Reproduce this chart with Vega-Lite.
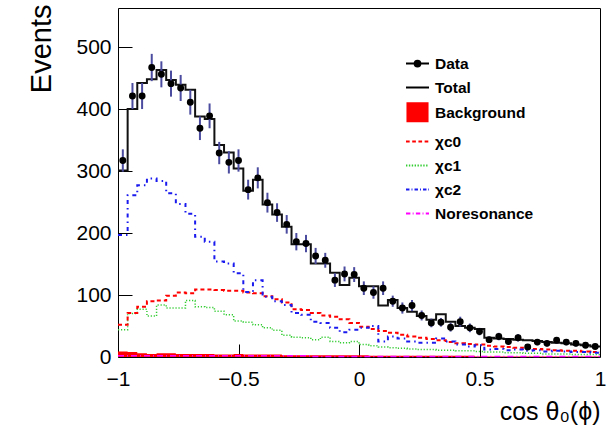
{
  "$schema": "https://vega.github.io/schema/vega-lite/v6.json",
  "width": 482,
  "height": 349,
  "autosize": {"type": "none"},
  "padding": {"left": 118, "top": 8, "right": 13, "bottom": 75},
  "background": "white",
  "config": {
    "view": {"stroke": "black", "strokeWidth": 1},
    "font": "Liberation Sans",
    "axis": {"labelFont": "Liberation Sans", "titleFont": "Liberation Sans", "labelColor": "black", "titleColor": "black"}
  },
  "data": {
    "values": [
      {"lo": -1.00, "hi": -0.96, "x": -0.98, "data": 317, "err": 18, "total": 301, "bkg": 9, "c0": 52, "c1": 44, "c2": 197, "nores": 2},
      {"lo": -0.96, "hi": -0.92, "x": -0.94, "data": 421, "err": 21, "total": 400, "bkg": 8, "c0": 71, "c1": 70, "c2": 261, "nores": 2},
      {"lo": -0.92, "hi": -0.88, "x": -0.90, "data": 421, "err": 21, "total": 442, "bkg": 6, "c0": 81, "c1": 77, "c2": 277, "nores": 2},
      {"lo": -0.88, "hi": -0.84, "x": -0.86, "data": 467, "err": 22, "total": 448, "bkg": 5, "c0": 90, "c1": 66, "c2": 288, "nores": 2},
      {"lo": -0.84, "hi": -0.80, "x": -0.82, "data": 456, "err": 21, "total": 463, "bkg": 6, "c0": 91, "c1": 84, "c2": 284, "nores": 2},
      {"lo": -0.80, "hi": -0.76, "x": -0.78, "data": 441, "err": 21, "total": 447, "bkg": 6, "c0": 99, "c1": 79, "c2": 264, "nores": 2},
      {"lo": -0.76, "hi": -0.72, "x": -0.74, "data": 434, "err": 21, "total": 439, "bkg": 5, "c0": 104, "c1": 79, "c2": 247, "nores": 2},
      {"lo": -0.72, "hi": -0.68, "x": -0.70, "data": 411, "err": 20, "total": 431, "bkg": 5, "c0": 103, "c1": 91, "c2": 231, "nores": 2},
      {"lo": -0.68, "hi": -0.64, "x": -0.66, "data": 369, "err": 19, "total": 388, "bkg": 5, "c0": 109, "c1": 81, "c2": 194, "nores": 2},
      {"lo": -0.64, "hi": -0.60, "x": -0.62, "data": 389, "err": 20, "total": 384, "bkg": 5, "c0": 109, "c1": 80, "c2": 186, "nores": 2},
      {"lo": -0.60, "hi": -0.56, "x": -0.58, "data": 329, "err": 18, "total": 342, "bkg": 4, "c0": 108, "c1": 74, "c2": 154, "nores": 2},
      {"lo": -0.56, "hi": -0.52, "x": -0.54, "data": 314, "err": 18, "total": 330, "bkg": 4, "c0": 107, "c1": 68, "c2": 151, "nores": 2},
      {"lo": -0.52, "hi": -0.48, "x": -0.50, "data": 317, "err": 18, "total": 304, "bkg": 5, "c0": 107, "c1": 58, "c2": 135, "nores": 2},
      {"lo": -0.48, "hi": -0.44, "x": -0.46, "data": 270, "err": 16, "total": 268, "bkg": 4, "c0": 104, "c1": 56, "c2": 105, "nores": 2},
      {"lo": -0.44, "hi": -0.40, "x": -0.42, "data": 289, "err": 17, "total": 286, "bkg": 4, "c0": 103, "c1": 52, "c2": 124, "nores": 2},
      {"lo": -0.40, "hi": -0.36, "x": -0.38, "data": 249, "err": 16, "total": 246, "bkg": 4, "c0": 98, "c1": 47, "c2": 97, "nores": 2},
      {"lo": -0.36, "hi": -0.32, "x": -0.34, "data": 233, "err": 15, "total": 230, "bkg": 4, "c0": 93, "c1": 43, "c2": 90, "nores": 2},
      {"lo": -0.32, "hi": -0.28, "x": -0.30, "data": 214, "err": 15, "total": 210, "bkg": 3, "c0": 88, "c1": 35, "c2": 84, "nores": 2},
      {"lo": -0.28, "hi": -0.24, "x": -0.26, "data": 186, "err": 14, "total": 182, "bkg": 3, "c0": 77, "c1": 32, "c2": 71, "nores": 2},
      {"lo": -0.24, "hi": -0.20, "x": -0.22, "data": 183, "err": 14, "total": 182, "bkg": 3, "c0": 76, "c1": 31, "c2": 68, "nores": 2},
      {"lo": -0.20, "hi": -0.16, "x": -0.18, "data": 163, "err": 13, "total": 151, "bkg": 3, "c0": 71, "c1": 28, "c2": 57, "nores": 1},
      {"lo": -0.16, "hi": -0.12, "x": -0.14, "data": 156, "err": 12, "total": 151, "bkg": 3, "c0": 67, "c1": 32, "c2": 55, "nores": 1},
      {"lo": -0.12, "hi": -0.08, "x": -0.10, "data": 124, "err": 11, "total": 136, "bkg": 3, "c0": 65, "c1": 25, "c2": 47, "nores": 1},
      {"lo": -0.08, "hi": -0.04, "x": -0.06, "data": 134, "err": 12, "total": 116, "bkg": 3, "c0": 61, "c1": 23, "c2": 40, "nores": 1},
      {"lo": -0.04, "hi": 0.00, "x": -0.02, "data": 133, "err": 12, "total": 128, "bkg": 3, "c0": 55, "c1": 25, "c2": 44, "nores": 1},
      {"lo": 0.00, "hi": 0.04, "x": 0.02, "data": 111, "err": 11, "total": 114, "bkg": 3, "c0": 49, "c1": 20, "c2": 47, "nores": 1},
      {"lo": 0.04, "hi": 0.08, "x": 0.06, "data": 104, "err": 10, "total": 114, "bkg": 2, "c0": 45, "c1": 18, "c2": 50, "nores": 1},
      {"lo": 0.08, "hi": 0.12, "x": 0.10, "data": 111, "err": 11, "total": 83, "bkg": 2, "c0": 42, "c1": 16, "c2": 25, "nores": 1},
      {"lo": 0.12, "hi": 0.16, "x": 0.14, "data": 90, "err": 9, "total": 92, "bkg": 2, "c0": 39, "c1": 15, "c2": 33, "nores": 1},
      {"lo": 0.16, "hi": 0.20, "x": 0.18, "data": 79, "err": 9, "total": 79, "bkg": 2, "c0": 36, "c1": 14, "c2": 30, "nores": 1},
      {"lo": 0.20, "hi": 0.24, "x": 0.22, "data": 83, "err": 9, "total": 73, "bkg": 2, "c0": 33, "c1": 13, "c2": 25, "nores": 1},
      {"lo": 0.24, "hi": 0.28, "x": 0.26, "data": 67, "err": 8, "total": 66, "bkg": 2, "c0": 31, "c1": 12, "c2": 23, "nores": 1},
      {"lo": 0.28, "hi": 0.32, "x": 0.30, "data": 55, "err": 7, "total": 60, "bkg": 2, "c0": 29, "c1": 12, "c2": 23, "nores": 1},
      {"lo": 0.32, "hi": 0.36, "x": 0.34, "data": 56, "err": 7, "total": 69, "bkg": 2, "c0": 27, "c1": 11, "c2": 30, "nores": 1},
      {"lo": 0.36, "hi": 0.40, "x": 0.38, "data": 48, "err": 7, "total": 57, "bkg": 2, "c0": 24, "c1": 11, "c2": 25, "nores": 1},
      {"lo": 0.40, "hi": 0.44, "x": 0.42, "data": 57, "err": 8, "total": 50, "bkg": 2, "c0": 22, "c1": 10, "c2": 20, "nores": 1},
      {"lo": 0.44, "hi": 0.48, "x": 0.46, "data": 47, "err": 7, "total": 47, "bkg": 2, "c0": 21, "c1": 10, "c2": 17, "nores": 1},
      {"lo": 0.48, "hi": 0.52, "x": 0.50, "data": 41, "err": 6, "total": 45, "bkg": 1, "c0": 20, "c1": 9, "c2": 19, "nores": 1},
      {"lo": 0.52, "hi": 0.56, "x": 0.54, "data": 28, "err": 5, "total": 31, "bkg": 1, "c0": 18, "c1": 8, "c2": 12, "nores": 1},
      {"lo": 0.56, "hi": 0.60, "x": 0.58, "data": 33, "err": 6, "total": 30, "bkg": 1, "c0": 17, "c1": 8, "c2": 13, "nores": 1},
      {"lo": 0.60, "hi": 0.64, "x": 0.62, "data": 25, "err": 5, "total": 29, "bkg": 1, "c0": 16, "c1": 7, "c2": 11, "nores": 1},
      {"lo": 0.64, "hi": 0.68, "x": 0.66, "data": 31, "err": 6, "total": 28, "bkg": 1, "c0": 15, "c1": 7, "c2": 12, "nores": 1},
      {"lo": 0.68, "hi": 0.72, "x": 0.70, "data": 16, "err": 4, "total": 27, "bkg": 1, "c0": 14, "c1": 6, "c2": 10, "nores": 1},
      {"lo": 0.72, "hi": 0.76, "x": 0.74, "data": 24, "err": 5, "total": 26, "bkg": 1, "c0": 13, "c1": 6, "c2": 11, "nores": 1},
      {"lo": 0.76, "hi": 0.80, "x": 0.78, "data": 22, "err": 5, "total": 24, "bkg": 1, "c0": 12, "c1": 5, "c2": 9, "nores": 1},
      {"lo": 0.80, "hi": 0.84, "x": 0.82, "data": 27, "err": 5, "total": 23, "bkg": 1, "c0": 11, "c1": 5, "c2": 10, "nores": 1},
      {"lo": 0.84, "hi": 0.88, "x": 0.86, "data": 24, "err": 5, "total": 22, "bkg": 1, "c0": 10, "c1": 5, "c2": 9, "nores": 1},
      {"lo": 0.88, "hi": 0.92, "x": 0.90, "data": 22, "err": 5, "total": 20, "bkg": 1, "c0": 10, "c1": 4, "c2": 8, "nores": 1},
      {"lo": 0.92, "hi": 0.96, "x": 0.94, "data": 19, "err": 4, "total": 19, "bkg": 1, "c0": 9, "c1": 4, "c2": 8, "nores": 1},
      {"lo": 0.96, "hi": 1.00, "x": 0.98, "data": 17, "err": 4, "total": 17, "bkg": 1, "c0": 8, "c1": 4, "c2": 7, "nores": 1}
    ]
  },
  "layer": [
    {
      "transform": [{"fold": ["lo", "hi"], "as": ["edge", "xe"]}],
      "mark": {"type": "area", "color": "#ff0000", "interpolate": "linear"},
      "encoding": {
        "x": {
          "field": "xe", "type": "quantitative",
          "scale": {"domain": [-1, 1], "nice": false, "zero": false},
          "axis": {
            "orient": "bottom", "values": [-1, -0.5, 0, 0.5, 1], "format": "~f",
            "ticks": false, "domain": false, "grid": false,
            "labelFontSize": 21, "labelPadding": 11, "labelFlush": false, "labelOverlap": false,
            "title": "cos θ₀(ϕ)", "titleFontSize": 25, "titleFontWeight": "normal",
            "titleAnchor": "end", "titleAlign": "right", "titleBaseline": "alphabetic",
            "titleX": 482, "titleY": 62
          }
        },
        "y": {
          "field": "bkg", "type": "quantitative",
          "scale": {"domain": [0, 563], "nice": false, "zero": true},
          "axis": {
            "orient": "left", "values": [0, 100, 200, 300, 400, 500],
            "ticks": false, "domain": false, "grid": false,
            "labelFontSize": 21, "labelPadding": 7,
            "title": "Events", "titleFontSize": 29, "titleFontWeight": "normal",
            "titleAngle": -90, "titleAnchor": "end", "titleAlign": "right", "titleBaseline": "alphabetic",
            "titleX": -68, "titleY": -4
          }
        },
        "y2": {"datum": 0}
      }
    },
    {
      "transform": [{"fold": ["lo", "hi"], "as": ["edge", "xe"]}],
      "mark": {"type": "line", "color": "#ff00ff", "strokeWidth": 1.5, "strokeDash": [6, 3, 1, 3]},
      "encoding": {
        "x": {"field": "xe", "type": "quantitative", "axis": null},
        "y": {"field": "nores", "type": "quantitative", "axis": null},
        "order": [{"field": "x", "type": "quantitative"}, {"field": "edge", "type": "nominal", "sort": "descending"}]
      }
    },
    {
      "transform": [{"fold": ["lo", "hi"], "as": ["edge", "xe"]}],
      "mark": {"type": "line", "color": "#33cc33", "strokeWidth": 1.5, "strokeDash": [1.2, 1.8]},
      "encoding": {
        "x": {"field": "xe", "type": "quantitative", "axis": null},
        "y": {"field": "c1", "type": "quantitative", "axis": null},
        "order": [{"field": "x", "type": "quantitative"}, {"field": "edge", "type": "nominal", "sort": "descending"}]
      }
    },
    {
      "transform": [{"fold": ["lo", "hi"], "as": ["edge", "xe"]}],
      "mark": {"type": "line", "color": "#ff0000", "strokeWidth": 2, "strokeDash": [4, 3]},
      "encoding": {
        "x": {"field": "xe", "type": "quantitative", "axis": null},
        "y": {"field": "c0", "type": "quantitative", "axis": null},
        "order": [{"field": "x", "type": "quantitative"}, {"field": "edge", "type": "nominal", "sort": "descending"}]
      }
    },
    {
      "transform": [{"fold": ["lo", "hi"], "as": ["edge", "xe"]}],
      "mark": {"type": "line", "color": "#1a1aee", "strokeWidth": 2, "strokeDash": [4, 4, 1.5, 4]},
      "encoding": {
        "x": {"field": "xe", "type": "quantitative", "axis": null},
        "y": {"field": "c2", "type": "quantitative", "axis": null},
        "order": [{"field": "x", "type": "quantitative"}, {"field": "edge", "type": "nominal", "sort": "descending"}]
      }
    },
    {
      "transform": [{"fold": ["lo", "hi"], "as": ["edge", "xe"]}],
      "mark": {"type": "line", "color": "#111111", "strokeWidth": 2},
      "encoding": {
        "x": {"field": "xe", "type": "quantitative", "axis": null},
        "y": {"field": "total", "type": "quantitative", "axis": null},
        "order": [{"field": "x", "type": "quantitative"}, {"field": "edge", "type": "nominal", "sort": "descending"}]
      }
    },
    {
      "mark": {"type": "errorbar", "ticks": false, "color": "#4b4ba0", "thickness": 2},
      "encoding": {
        "x": {"field": "x", "type": "quantitative", "axis": null},
        "y": {"field": "data", "type": "quantitative", "axis": null},
        "yError": {"field": "err"}
      }
    },
    {
      "mark": {"type": "point", "filled": true, "color": "black", "size": 48, "opacity": 1},
      "encoding": {
        "x": {
          "field": "x", "type": "quantitative",
          "axis": {"orient": "top", "offset": -349, "values": [-0.5, 0, 0.5], "labels": false, "domain": false, "grid": false, "tickSize": 13, "tickColor": "black", "tickWidth": 1, "title": null}
        },
        "y": {
          "field": "data", "type": "quantitative",
          "axis": {"orient": "right", "offset": -482, "values": [0, 100, 200, 300, 400, 500], "labels": false, "domain": false, "grid": false, "tickSize": 14, "tickColor": "black", "tickWidth": 1, "title": null}
        }
      }
    },
    {
      "transform": [{"fold": ["data", "total", "bkg", "c0", "c1", "c2", "nores"], "as": ["series", "val"]}],
      "mark": {"type": "point", "filled": false, "opacity": 0, "strokeWidth": 2},
      "encoding": {
        "x": {"field": "x", "type": "quantitative", "axis": null},
        "y": {"field": "val", "type": "quantitative", "axis": null},
        "color": {
          "field": "series", "type": "nominal",
          "scale": {
            "domain": ["data", "total", "bkg", "c0", "c1", "c2", "nores"],
            "range": ["#000000", "#000000", "#ff0000", "#ff0000", "#33cc33", "#1a1aee", "#ff00ff"]
          },
          "legend": {
            "orient": "none", "legendX": 287, "legendY": 43, "title": null, "padding": 0,
            "labelExpr": "datum.label == 'data' ? 'Data' : datum.label == 'total' ? 'Total' : datum.label == 'bkg' ? 'Background' : datum.label == 'c0' ? 'χc0' : datum.label == 'c1' ? 'χc1' : datum.label == 'c2' ? 'χc2' : 'Noresonance'",
            "labelFont": "Liberation Sans", "labelFontWeight": "bold", "labelFontSize": 15.5, "labelColor": "black", "labelOffset": 5,
            "symbolSize": 529, "symbolStrokeWidth": 2, "symbolOpacity": 1, "rowPadding": 3
          }
        },
        "shape": {
          "field": "series", "type": "nominal",
          "scale": {
            "domain": ["data", "total", "bkg", "c0", "c1", "c2", "nores"],
            "range": [
              "M-1,0H1M0.25,0A0.25,0.25,0,1,1,-0.25,0A0.25,0.25,0,1,1,0.25,0M0.1,0A0.1,0.1,0,1,1,-0.1,0A0.1,0.1,0,1,1,0.1,0",
              "M-1,0H1",
              "M-0.96,-0.8H0.96M-0.96,-0.68H0.96M-0.96,-0.56H0.96M-0.96,-0.44H0.96M-0.96,-0.32H0.96M-0.96,-0.2H0.96M-0.96,-0.08H0.96M-0.96,0.04H0.96M-0.96,0.16H0.96M-0.96,0.28H0.96M-0.96,0.4H0.96M-0.96,0.52H0.96M-0.96,0.64H0.96M-0.96,0.76H0.96",
              "M-1,0H-0.68M-0.46,0H-0.14M0.08,0H0.4M0.62,0H0.94",
              "M-1,0H-0.88M-0.75,0H-0.63M-0.5,0H-0.38M-0.25,0H-0.13M0,0H0.12M0.25,0H0.37M0.5,0H0.62M0.75,0H0.87",
              "M-1,0H-0.7M-0.52,0H-0.44M-0.26,0H0.04M0.22,0H0.3M0.48,0H0.78M0.94,0H1",
              "M-1,0H-0.62M-0.42,0H-0.34M-0.14,0H0.24M0.44,0H0.52M0.72,0H1"
            ]
          },
          "legend": {
            "orient": "none", "legendX": 287, "legendY": 43, "title": null, "padding": 0,
            "labelExpr": "datum.label == 'data' ? 'Data' : datum.label == 'total' ? 'Total' : datum.label == 'bkg' ? 'Background' : datum.label == 'c0' ? 'χc0' : datum.label == 'c1' ? 'χc1' : datum.label == 'c2' ? 'χc2' : 'Noresonance'",
            "labelFont": "Liberation Sans", "labelFontWeight": "bold", "labelFontSize": 15.5, "labelColor": "black", "labelOffset": 5,
            "symbolSize": 529, "symbolStrokeWidth": 2, "symbolOpacity": 1, "rowPadding": 3
          }
        }
      }
    }
  ]
}
